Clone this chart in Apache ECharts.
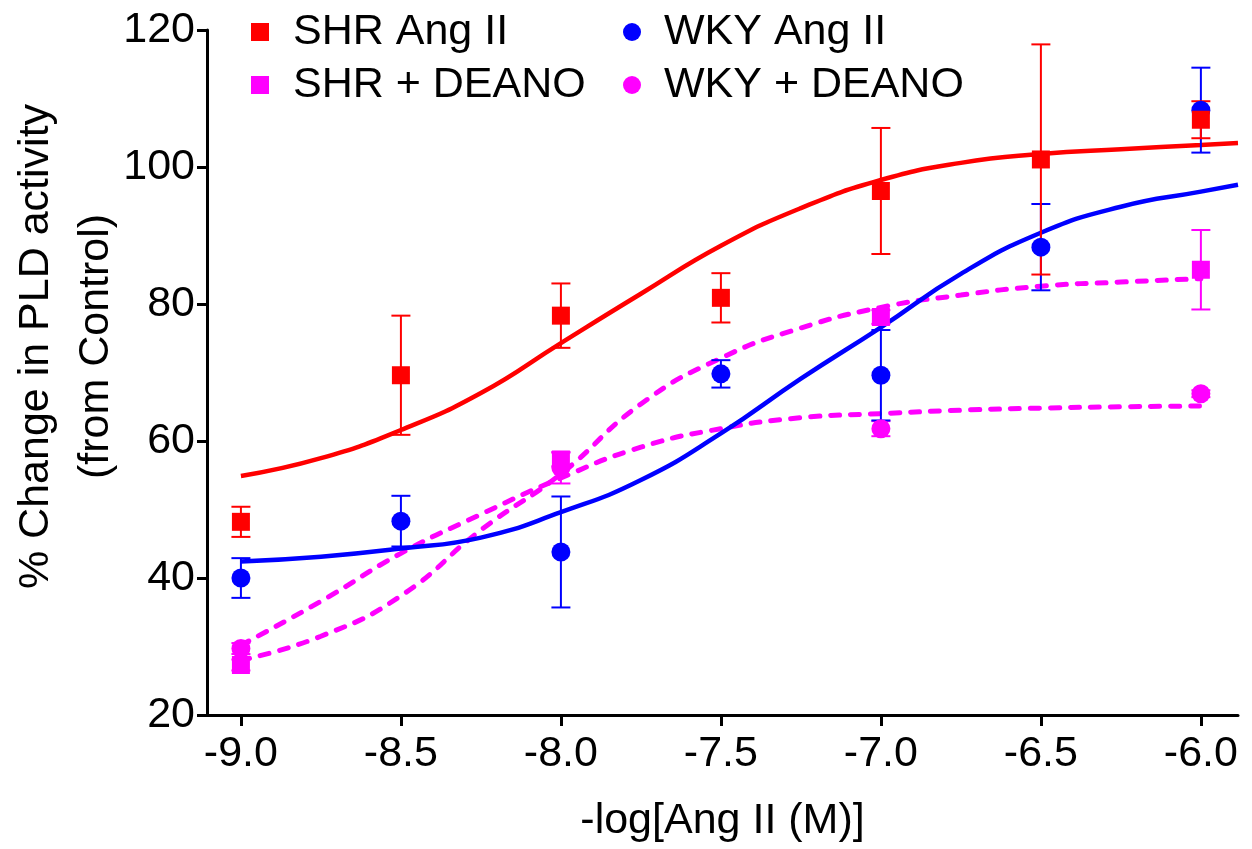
<!DOCTYPE html>
<html>
<head>
<meta charset="utf-8">
<title>PLD activity dose response</title>
<script src="https://cdn.jsdelivr.net/npm/echarts@6/dist/echarts.min.js"></script>
<style>
  html, body { margin: 0; padding: 0; background: #fff; }
  #chart { width: 1252px; height: 849px; }
</style>
</head>
<body>
<div id="chart"></div>
<script>
// Dose axis (log molar Ang II) tick positions
const xTicks = [-9.0, -8.5, -8.0, -7.5, -7.0, -6.5, -6.0];

// Ang II dose groups: mean ± SEM
const angDoses = [-9.0, -8.5, -8.0, -7.5, -7.0, -6.5, -6.0];
const shrAngMean = [48.2, 69.6, 78.3, 80.9, 96.5, 101.1, 106.9];
const shrAngSem  = [2.2, 8.7, 4.7, 3.6, 9.2, 16.8, 2.7];
const wkyAngMean = [40.0, 48.3, 43.8, 69.8, 69.6, 88.3, 108.3];
const wkyAngSem  = [2.9, 3.7, 8.1, 2.0, 6.6, 6.3, 6.2];

// Ang II + DEANO dose groups: mean ± SEM
const deanoDoses = [-9.0, -8.0, -7.0, -6.0];
const shrDeanoMean = [27.3, 57.3, 78.1, 85.0];
const shrDeanoSem  = [0.8, 1.0, 1.0, 5.8];
const wkyDeanoMean = [29.7, 56.1, 61.8, 66.9];
const wkyDeanoSem  = [0.8, 2.3, 1.1, 0.5];

// Fitted dose-response curves
const angFitX = [-9.0, -8.75, -8.5, -8.25, -8.0, -7.75, -7.5, -7.25, -7.0, -6.75, -6.5, -6.25, -6.0, -5.884];
const shrAngFit = [54.9, 57.5, 61.6, 67.0, 74.3, 81.5, 88.5, 94.0, 98.1, 100.6, 101.9, 102.6, 103.2, 103.5];
const wkyAngFit = [42.4, 43.1, 44.3, 45.9, 49.6, 54.3, 61.1, 69.1, 76.6, 84.4, 90.4, 94.2, 96.4, 97.4];
const deanoFitX = [-9.0, -8.75, -8.5, -8.25, -8.0, -7.75, -7.5, -7.25, -7.0, -6.75, -6.5, -6.25, -6.0];
const shrDeanoFit = [28.0, 31.5, 37.4, 47.0, 55.2, 65.4, 72.1, 76.5, 79.5, 81.3, 82.6, 83.2, 83.7];
const wkyDeanoFit = [30.2, 36.6, 43.6, 49.3, 54.6, 59.1, 61.8, 63.4, 64.0, 64.5, 64.8, 65.0, 65.1];

const RED = '#ff0000', BLUE = '#0000ff', MAGENTA = '#ff00ff';
const FONT = "'Liberation Sans', Arial, Helvetica, sans-serif";

const zip = (xs, ys) => xs.map((x, i) => [x, ys[i]]);
const zip3 = (xs, ys, es) => xs.map((x, i) => [x, ys[i], es[i]]);

function fitLine(name, xs, ys, color, dashed) {
  return {
    name: name, type: 'line', data: zip(xs, ys),
    smooth: 0.5, showSymbol: false, silent: true, z: 2,
    lineStyle: dashed
      ? { color: color, width: 5, type: [9, 11], cap: 'round' }
      : { color: color, width: 4.5 }
  };
}

function errorBars(name, xs, ys, es, color) {
  return {
    name: name, type: 'custom', data: zip3(xs, ys, es), silent: true, z: 3,
    renderItem: function (params, api) {
      const x = api.value(0), y = api.value(1), e = api.value(2);
      const top = api.coord([x, y + e]);
      const bot = api.coord([x, y - e]);
      const half = 9.5;
      const style = { stroke: color, lineWidth: 2 };
      return {
        type: 'group',
        children: [
          { type: 'line', shape: { x1: top[0], y1: top[1], x2: bot[0], y2: bot[1] }, style: style },
          { type: 'line', shape: { x1: top[0] - half, y1: top[1], x2: top[0] + half, y2: top[1] }, style: style },
          { type: 'line', shape: { x1: bot[0] - half, y1: bot[1], x2: bot[0] + half, y2: bot[1] }, style: style }
        ]
      };
    }
  };
}

function points(name, xs, ys, color, symbol, size) {
  return {
    name: name, type: 'scatter', data: zip(xs, ys),
    symbol: symbol, symbolSize: size, z: 4,
    itemStyle: { color: color, opacity: 1 }
  };
}

const chart = echarts.init(document.getElementById('chart'), null, { renderer: 'canvas' });

const legendText = { fontFamily: FONT, fontSize: 43, color: '#000', lineHeight: 48 };

chart.setOption({
  animation: false,
  backgroundColor: '#fff',
  grid: { left: 207, right: 14, top: 30, bottom: 134, containLabel: false, outerBoundsMode: 'none' },
  legend: [
    {
      left: 251, top: 8, orient: 'vertical', padding: 0, itemGap: 5,
      itemWidth: 18, itemHeight: 18, selectedMode: false,
      textStyle: Object.assign({ padding: [0, 0, 0, 19] }, legendText),
      data: [{ name: 'SHR Ang II', icon: 'rect' }, { name: 'SHR + DEANO', icon: 'rect' }]
    },
    {
      left: 623, top: 8, orient: 'vertical', padding: 0, itemGap: 5,
      itemWidth: 18, itemHeight: 18, selectedMode: false,
      textStyle: Object.assign({ padding: [0, 0, 0, 18] }, legendText),
      data: [{ name: 'WKY Ang II', icon: 'circle' }, { name: 'WKY + DEANO', icon: 'circle' }]
    }
  ],
  xAxis: {
    type: 'value', min: -9.106, max: -5.884,
    name: '-log[Ang II (M)]', nameLocation: 'middle', nameGap: 85, nameMoveOverlap: false,
    nameTextStyle: { fontFamily: FONT, fontSize: 43, color: '#000' },
    axisLine: { show: true, onZero: false, lineStyle: { color: '#000', width: 3 } },
    axisTick: { show: true, length: 11, lineStyle: { color: '#000', width: 3 }, customValues: xTicks },
    axisLabel: {
      fontFamily: FONT, fontSize: 43, color: '#000', margin: 18,
      customValues: xTicks,
      formatter: function (v) { return v.toFixed(1); }
    },
    splitLine: { show: false }
  },
  yAxis: {
    type: 'value', min: 20, max: 120, interval: 20,
    name: '% Change in PLD activity\n(from Control)', nameLocation: 'middle', nameGap: 81, nameRotate: 90,
    nameMoveOverlap: false,
    nameTextStyle: { fontFamily: FONT, fontSize: 43, color: '#000', lineHeight: 60, padding: [0, 0, 0, 52] },
    axisLine: { show: true, lineStyle: { color: '#000', width: 3 } },
    axisTick: { show: true, length: 10, lineStyle: { color: '#000', width: 3 } },
    axisLabel: { fontFamily: FONT, fontSize: 43, color: '#000', margin: 12 },
    splitLine: { show: false }
  },
  series: [
    fitLine('SHR + DEANO fit', deanoFitX, shrDeanoFit, MAGENTA, true),
    fitLine('WKY + DEANO fit', deanoFitX, wkyDeanoFit, MAGENTA, true),
    fitLine('WKY Ang II fit', angFitX, wkyAngFit, BLUE, false),
    fitLine('SHR Ang II fit', angFitX, shrAngFit, RED, false),

    errorBars('WKY + DEANO err', deanoDoses, wkyDeanoMean, wkyDeanoSem, MAGENTA),
    errorBars('SHR + DEANO err', deanoDoses, shrDeanoMean, shrDeanoSem, MAGENTA),
    errorBars('WKY Ang II err', angDoses, wkyAngMean, wkyAngSem, BLUE),
    errorBars('SHR Ang II err', angDoses, shrAngMean, shrAngSem, RED),

    points('WKY + DEANO', deanoDoses, wkyDeanoMean, MAGENTA, 'circle', 19),
    points('SHR + DEANO', deanoDoses, shrDeanoMean, MAGENTA, 'rect', 18),
    points('WKY Ang II', angDoses, wkyAngMean, BLUE, 'circle', 19),
    points('SHR Ang II', angDoses, shrAngMean, RED, 'rect', 18)
  ]
});
</script>
</body>
</html>
